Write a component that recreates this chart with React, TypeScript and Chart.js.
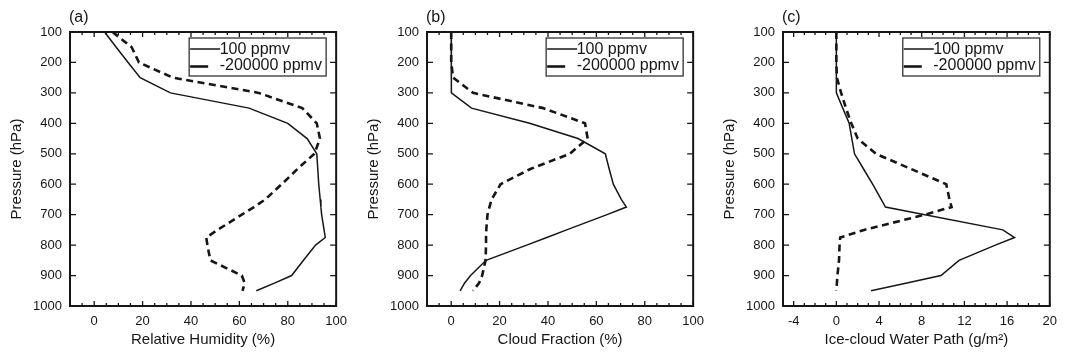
import React, { useEffect, useRef } from "react";
import { Chart, registerables } from "chart.js";

Chart.register(...registerables);

// Pressure levels (hPa)
const levels = [100, 150, 200, 250, 300, 350, 400, 450, 500, 550, 600, 650, 675, 700, 750, 775, 800, 850, 900, 925, 950];

// (a) Relative humidity (%)
const rhLow = [4.3, 9.1, 14, 19, 31.5, 64, 80, 88, 92, 92.4, 92.8, 93.4, 93.7, 94, 95, 95.5, 91.5, 86.5, 81.6, 74.5, 67];
const rhHigh = [7.6, 15.5, 18.5, 32.5, 68, 86, 92, 93.3, 91, 84, 77.5, 70.7, 66, 61, 51, 46.3, 46.8, 48, 61, 62.2, 61.3];

// (b) Cloud fraction (%)
const cfLow = [0, 0, 0, 0, 0.3, 8.4, 32.4, 52.4, 63.7, 65.3, 67, 70.3, 72.4, 64.4, 47.7, 39.5, 31.2, 14.4, 8, 5.5, 3.7];
const cfHigh = [0, 0, 0, 0.8, 9, 38, 55.3, 56.4, 49, 32.7, 20.4, 16.7, 15.8, 15, 14.5, 14.4, 14.4, 14.2, 12.8, 11.5, 9];

// (c) Ice-cloud water path (g/m2)
const iwpLow = [0, 0, 0, 0, 0, 0.6, 1.2, 1.45, 1.7, 2.55, 3.4, 4.2, 4.6, 8.3, 15.6, 16.7, 14.9, 11.5, 9.8, 6.5, 3.25];
const iwpHigh = [0, 0, 0, 0.05, 0.45, 0.9, 1.4, 2.0, 3.7, 7.0, 10.3, 10.6, 10.8, 8.3, 2.6, 0.36, 0.3, 0.25, 0.1, 0.05, 0];

const seriesLabels = ["100 ppmv", "-200000 ppmv"];
const panelTags = ["(a)", "(b)", "(c)"];
const xTitles = ["Relative Humidity (%)", "Cloud Fraction (%)", "Ice-cloud Water Path (g/m\u00B2)"];
const yTitle = "Pressure (hPa)";

const pressureTicks = [100, 200, 300, 400, 500, 600, 700, 800, 900, 1000];
const percentTicks = [0, 20, 40, 60, 80, 100];
const iwpTicks = [-4, 0, 4, 8, 12, 16, 20];

const FONT = "'Liberation Sans', Arial, Helvetica, sans-serif";
const INK = "#161616";

type Panel = {
  tag: string;
  xTitle: string;
  xMin: number;
  xMax: number;
  xTicks: number[];
  minorStep: number;
  low: number[];
  high: number[];
  left: number;
  width: number;
  padRight: number;
};

const panels: Panel[] = [
  { tag: panelTags[0], xTitle: xTitles[0], xMin: -10, xMax: 100, xTicks: percentTicks, minorStep: 5, low: rhLow, high: rhHigh, left: 0, width: 355, padRight: 11.5 },
  { tag: panelTags[1], xTitle: xTitles[1], xMin: -10, xMax: 100, xTicks: percentTicks, minorStep: 5, low: cfLow, high: cfHigh, left: 357, width: 355, padRight: 11 },
  { tag: panelTags[2], xTitle: xTitles[2], xMin: -5, xMax: 20, xTicks: iwpTicks, minorStep: 1, low: iwpLow, high: iwpHigh, left: 713, width: 352, padRight: 7 },
];

const HEIGHT = 355;

function makeFramePlugin(p: Panel) {
  return {
    id: "frameLegend",
    afterDraw(chart: any) {
      const { ctx, chartArea: a, scales } = chart;
      const xs = scales.x;
      const ys = scales.y;
      ctx.save();
      ctx.strokeStyle = INK;
      ctx.lineCap = "butt";
      // x ticks (inward), top and bottom
      ctx.lineWidth = 1.3;
      const n = Math.round((p.xMax - p.xMin) / p.minorStep);
      for (let i = 0; i <= n; i++) {
        const v = p.xMin + i * p.minorStep;
        const px = xs.getPixelForValue(v);
        const major = p.xTicks.some((t) => Math.abs(t - v) < 1e-9);
        const len = major ? 5 : 3;
        ctx.beginPath();
        ctx.moveTo(px, a.bottom);
        ctx.lineTo(px, a.bottom - len);
        ctx.moveTo(px, a.top);
        ctx.lineTo(px, a.top + len);
        ctx.stroke();
      }
      // y ticks (inward), left and right
      for (const t of pressureTicks) {
        const py = ys.getPixelForValue(t);
        ctx.beginPath();
        ctx.moveTo(a.left, py);
        ctx.lineTo(a.left + 6, py);
        ctx.moveTo(a.right, py);
        ctx.lineTo(a.right - 6, py);
        ctx.stroke();
      }
      // frame
      ctx.lineWidth = 2;
      ctx.strokeRect(a.left, a.top, a.right - a.left, a.bottom - a.top);

      // legend box
      const bw = 137;
      const bh = 38;
      const bx = a.right - 10 - bw;
      const by = a.top + 6;
      ctx.fillStyle = "#ffffff";
      ctx.fillRect(bx, by, bw, bh);
      ctx.lineWidth = 1.3;
      ctx.strokeStyle = "#333333";
      ctx.strokeRect(bx, by, bw, bh);

      const ds = chart.data.datasets;
      const r1 = by + 11;
      const r2 = by + 27.5;
      ctx.strokeStyle = INK;
      ctx.lineWidth = ds[0].borderWidth;
      ctx.setLineDash([]);
      ctx.beginPath();
      ctx.moveTo(bx + 1, r1);
      ctx.lineTo(bx + 31, r1);
      ctx.stroke();
      ctx.lineWidth = ds[1].borderWidth;
      ctx.beginPath();
      ctx.moveTo(bx + 1, r2 + 1);
      ctx.lineTo(bx + 19, r2 + 1);
      ctx.stroke();

      ctx.fillStyle = INK;
      ctx.font = `16px ${FONT}`;
      ctx.textBaseline = "middle";
      ctx.textAlign = "left";
      ctx.fillText(ds[0].label, bx + 30.5, r1 + 1);
      ctx.fillText(ds[1].label, bx + 30.5, r2);

      // panel tag
      ctx.font = `16px ${FONT}`;
      ctx.fillText(p.tag, a.left - 1, 18);
      ctx.restore();
    },
  };
}

function PanelChart({ p }: { p: Panel }) {
  const ref = useRef<HTMLCanvasElement | null>(null);
  useEffect(() => {
    if (!ref.current) return;
    const chart = new Chart(ref.current, {
      type: "line",
      data: {
        datasets: [
          {
            label: seriesLabels[0],
            data: levels.map((lev, i) => ({ x: p.low[i], y: lev })),
            borderColor: INK,
            borderWidth: 1.5,
            pointRadius: 0,
            fill: false,
            tension: 0,
          },
          {
            label: seriesLabels[1],
            data: levels.map((lev, i) => ({ x: p.high[i], y: lev })),
            borderColor: INK,
            borderWidth: 2.6,
            borderDash: [7, 4.5],
            pointRadius: 0,
            fill: false,
            tension: 0,
          },
        ],
      },
      options: {
        animation: false,
        responsive: false,
        maintainAspectRatio: false,
        layout: { padding: { top: 32, right: p.padRight, left: 0, bottom: 0 } },
        plugins: { legend: { display: false }, tooltip: { enabled: false } },
        scales: {
          x: {
            type: "linear",
            min: p.xMin,
            max: p.xMax,
            afterBuildTicks: (s: any) => {
              s.ticks = p.xTicks.map((v) => ({ value: v }));
            },
            afterFit: (s: any) => {
              s.height = 49;
            },
            grid: { display: false, drawTicks: false },
            border: { display: false },
            ticks: {
              padding: 8,
              color: INK,
              maxRotation: 0,
              autoSkip: false,
              font: { family: FONT, size: 13 },
              callback: (v: any) => String(v),
            },
            title: {
              display: true,
              text: p.xTitle,
              color: INK,
              font: { family: FONT, size: 15 },
              padding: { top: 0, bottom: 6 },
            },
          },
          y: {
            type: "linear",
            reverse: true,
            min: 100,
            max: 1000,
            afterBuildTicks: (s: any) => {
              s.ticks = pressureTicks.map((v) => ({ value: v }));
            },
            afterFit: (s: any) => {
              s.width = 70;
            },
            grid: { display: false, drawTicks: false },
            border: { display: false },
            ticks: {
              padding: 8,
              color: INK,
              autoSkip: false,
              font: { family: FONT, size: 13 },
              callback: (v: any) => String(v),
            },
            title: {
              display: true,
              text: yTitle,
              color: INK,
              font: { family: FONT, size: 15 },
              padding: { top: 8, bottom: 0 },
            },
          },
        },
      } as any,
      plugins: [makeFramePlugin(p)],
    });
    return () => chart.destroy();
  }, [p]);
  return (
    <canvas
      ref={ref}
      width={p.width}
      height={HEIGHT}
      style={{ position: "absolute", left: p.left, top: 0, width: p.width, height: HEIGHT }}
    />
  );
}

export default function App() {
  return (
    <div style={{ position: "absolute", left: 0, top: 0, width: 1065, height: HEIGHT, background: "#ffffff" }}>
      {panels.map((p) => (
        <PanelChart key={p.tag} p={p} />
      ))}
    </div>
  );
}
